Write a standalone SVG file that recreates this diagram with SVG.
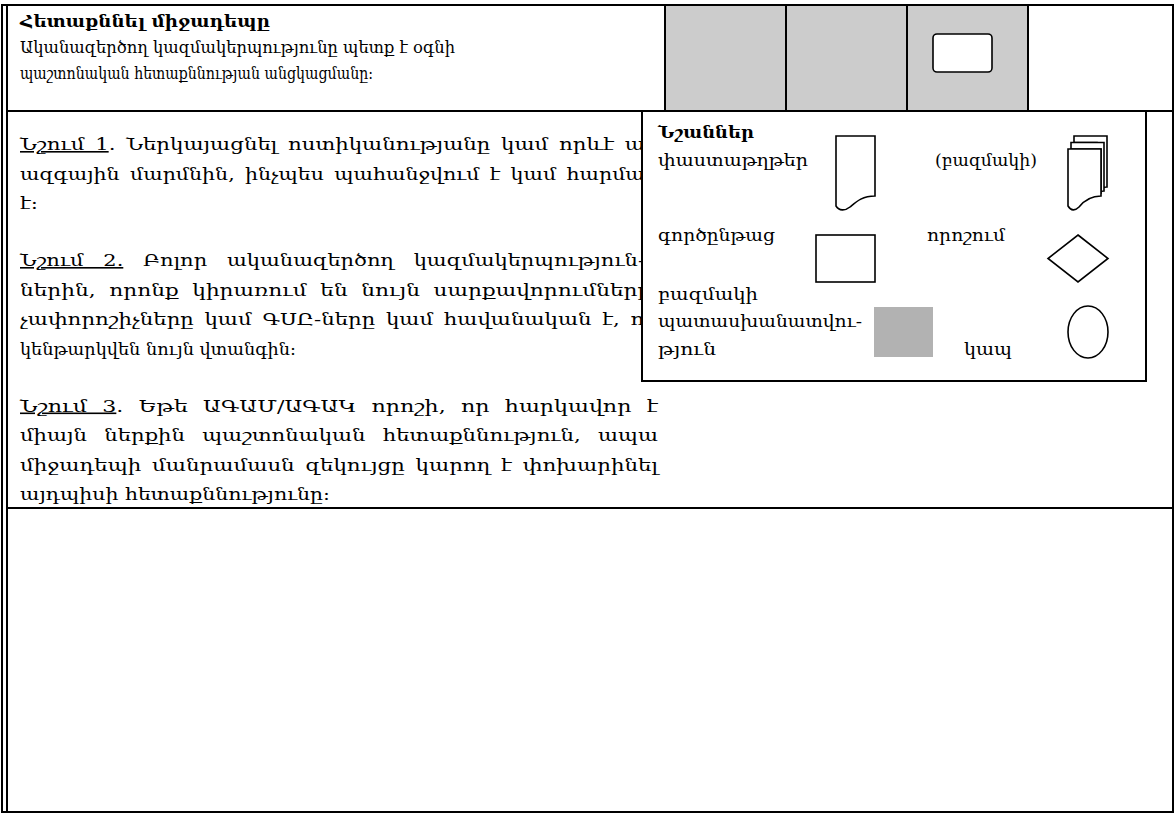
<svg xmlns="http://www.w3.org/2000/svg" width="1175" height="814" viewBox="0 0 1175 814">
<style>
.t{font-family:"DejaVu Serif","Noto Sans",serif;font-size:16px;fill:#000}
.lg{font-size:17px}
.b{font-weight:bold}
.u{text-decoration:underline}
.ln{stroke:#000;stroke-width:2;fill:none}
.sh{stroke:#000;stroke-width:1.6;fill:#fff}
</style>
<rect width="1175" height="814" fill="#fff"/>
<g id="header">
<rect x="665" y="5" width="363" height="106" fill="#ccc"/>
<path class="ln" d="M665 5V111M786 5V111M907 5V111M1028 5V111"/>
<rect class="sh" x="933" y="34" width="59" height="38" rx="4" stroke-width="2"/>
<text class="t b" x="20" y="27" textLength="250" lengthAdjust="spacingAndGlyphs">Հետաքննել միջադեպը</text>
<text class="t lg" x="20" y="53" textLength="435" lengthAdjust="spacingAndGlyphs">Ականազերծող կազմակերպությունը պետք է օգնի</text>
<text class="t lg" x="20" y="79" textLength="353" lengthAdjust="spacingAndGlyphs">պաշտոնական հետաքննության անցկացմանը:</text>
</g>
<g id="body">
<text class="t" x="20" y="150" word-spacing="3" textLength="638" lengthAdjust="spacingAndGlyphs"><tspan class="u">Նշում 1</tspan>. Ներկայացնել ոստիկանությանը կամ որևէ այլ</text>
<text class="t" x="20" y="179.5" word-spacing="3" textLength="638" lengthAdjust="spacingAndGlyphs">ազգային մարմնին, ինչպես պահանջվում է կամ հարմար</text>
<text class="t" x="20" y="209" textLength="18" lengthAdjust="spacingAndGlyphs">է:</text>
<text class="t" x="20" y="266" word-spacing="10" textLength="625" lengthAdjust="spacingAndGlyphs"><tspan class="u">Նշում 2.</tspan> Բոլոր ականազերծող կազմակերպություն-</text>
<text class="t" x="20" y="295.5" word-spacing="5" textLength="638" lengthAdjust="spacingAndGlyphs">ներին, որոնք կիրառում են նույն սարքավորումները,</text>
<text class="t" x="20" y="325" word-spacing="3" textLength="638" lengthAdjust="spacingAndGlyphs">չափորոշիչները կամ ԳՍԸ-ները կամ հավանական է, որ</text>
<text class="t lg" x="20" y="354.5" textLength="276" lengthAdjust="spacingAndGlyphs">կենթարկվեն նույն վտանգին:</text>
<text class="t" x="20" y="411.5" word-spacing="6" textLength="638" lengthAdjust="spacingAndGlyphs"><tspan class="u">Նշում 3</tspan>. Եթե ԱԳԱՄ/ԱԳԱԿ որոշի, որ հարկավոր է</text>
<text class="t" x="20" y="441" word-spacing="8" textLength="638" lengthAdjust="spacingAndGlyphs">միայն ներքին պաշտոնական հետաքննություն, ապա</text>
<text class="t" x="20" y="470.5" word-spacing="3" textLength="638" lengthAdjust="spacingAndGlyphs">միջադեպի մանրամասն զեկույցը կարող է փոխարինել</text>
<text class="t" x="20" y="500" textLength="310" lengthAdjust="spacingAndGlyphs">այդպիսի հետաքննությունը:</text>
</g>
<g id="frame">
<path class="ln" d="M1 5H1174M2 4V813M7 5V812M1173 4V813M1 812H1174M7 111H1173M7 508H1173"/>
</g>
<g id="legend">
<rect x="642" y="111" width="504" height="270" fill="#fff" stroke="#000" stroke-width="2"/>
<text class="t lg b" x="658" y="138" textLength="96" lengthAdjust="spacingAndGlyphs">Նշաններ</text>
<text class="t lg" x="658" y="166" textLength="150" lengthAdjust="spacingAndGlyphs">փաստաթղթեր</text>
<text class="t lg" x="935" y="166" textLength="102" lengthAdjust="spacingAndGlyphs">(բազմակի)</text>
<text class="t lg" x="658" y="241" textLength="117" lengthAdjust="spacingAndGlyphs">գործընթաց</text>
<text class="t lg" x="927" y="241" textLength="78" lengthAdjust="spacingAndGlyphs">որոշում</text>
<text class="t lg" x="658" y="300" textLength="100" lengthAdjust="spacingAndGlyphs">բազմակի</text>
<text class="t lg" x="658" y="327" textLength="204" lengthAdjust="spacingAndGlyphs">պատասխանատվու-</text>
<text class="t lg" x="658" y="355" textLength="58" lengthAdjust="spacingAndGlyphs">թյուն</text>
<text class="t lg" x="964" y="355" textLength="48" lengthAdjust="spacingAndGlyphs">կապ</text>
<g id="sym-doc"><path class="sh" d="M836 136H875V196C862 196 856 202 850 207C845 211 839 211 836 206Z"/></g>
<g id="sym-multidoc">
<path class="sh" d="M1074 136H1107V187C1102 187 1099 189 1097 191V142.5H1074Z"/>
<path class="sh" d="M1071 142.5H1104V191C1100 191 1098 192 1101 193V149H1071Z"/>
<path class="sh" d="M1068 149H1101V196C1089 196 1083 202 1079 207C1075 211 1071 211 1068 206Z"/>
</g>
<g id="sym-process"><rect class="sh" x="816" y="235" width="59" height="47"/></g>
<g id="sym-decision"><path class="sh" d="M1078 235L1108 258.5L1078 282L1048 258.5Z"/></g>
<g id="sym-resp"><rect x="874" y="307" width="59" height="50" fill="#b2b2b2"/></g>
<g id="sym-link"><ellipse class="sh" cx="1088" cy="332" rx="20" ry="26"/></g>
</g>
<g id="connectors"/>
</svg>
